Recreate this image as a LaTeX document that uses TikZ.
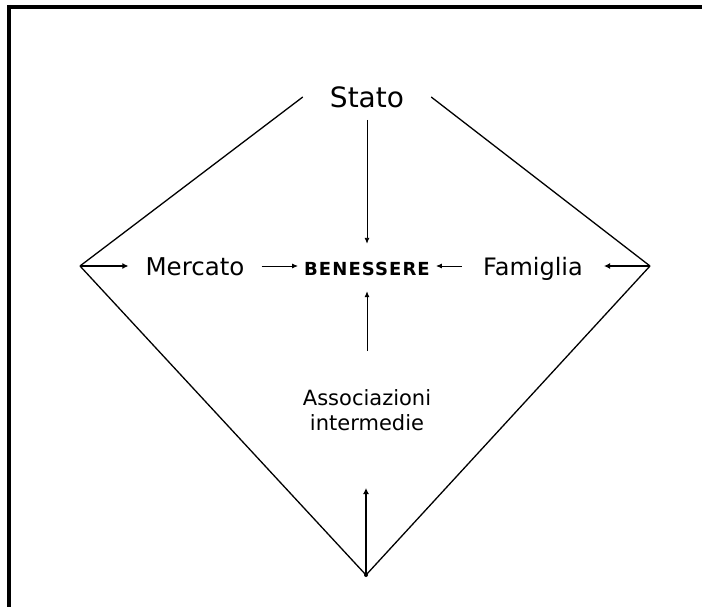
\documentclass[tikz,border=0pt]{standalone}
\usepackage{fontspec}
\setmainfont{DejaVu Sans}
\usetikzlibrary{arrows.meta}

\tikzset{
  side/.style={line width=1.3pt},
  thinarrow/.style={line width=0.9pt,-{Latex[length=6pt,width=5pt]}},
  thickarrow/.style={line width=2pt,-{Latex[length=6pt,width=6pt]}},
  label/.style={inner sep=0pt},
  midlabel/.style={inner sep=0pt,text height=22pt,text depth=4pt}
}

\begin{document}
\begin{tikzpicture}[x=1pt,y=-1pt]
      % Page size and the frame (only top and left edge show)
      \useasboundingbox (0,0) rectangle (702,607);
      \draw[line width=4pt] (7,7) -- (702,7);
      \draw[line width=4pt] (9,5) -- (9,607);

      % The four sources and the centre
      \node[label,inner xsep=27pt,font=\fontsize{28}{30}\selectfont] (stato) at (367,97) {Stato};
      \node[midlabel,inner xsep=17pt,font=\fontsize{24.5}{26}\selectfont] (mercato) at (195,266) {Mercato};
      \node[midlabel,inner xsep=6pt,font=\fontsize{18}{20}\selectfont\bfseries\addfontfeature{LetterSpace=6}] (ben) at (367,266) {BENESSERE};
      \node[midlabel,inner xsep=21pt,font=\fontsize{24}{26}\selectfont] (famiglia) at (533,266) {Famiglia};
      \node[label,align=center,font=\fontsize{21}{25}\selectfont] (assoc) at (367,410) {Associazioni\\intermedie};

      % Corners of the diamond
      \coordinate (lv) at (80,266);
      \coordinate (rv) at (650,266);
      \coordinate (bv) at (366,575);
      \coordinate (bvtip) at (366,488);

      % Sides of the diamond
      \draw[side] (lv) -- (stato.west);
      \draw[side] (rv) -- (stato.east);
      \draw[side] (lv) -- (bv) -- (rv);
      \fill (bv) circle (2pt);

      % Arrows from the corners
      \draw[thickarrow] (lv) -- (mercato.west);
      \draw[thickarrow] (rv) -- (famiglia.east);
      \draw[thickarrow] (bv) -- (bvtip);

      % Arrows into the centre
      \draw[thinarrow,shorten <=12pt,shorten >=9pt] (stato.south) -- (ben.north);
      \draw[thinarrow] (mercato.east) -- (ben.west);
      \draw[thinarrow] (famiglia.west) -- (ben.east);
      \draw[thinarrow,shorten <=38pt,shorten >=12pt] (assoc.north) -- (ben.south);
\end{tikzpicture}
\end{document}
